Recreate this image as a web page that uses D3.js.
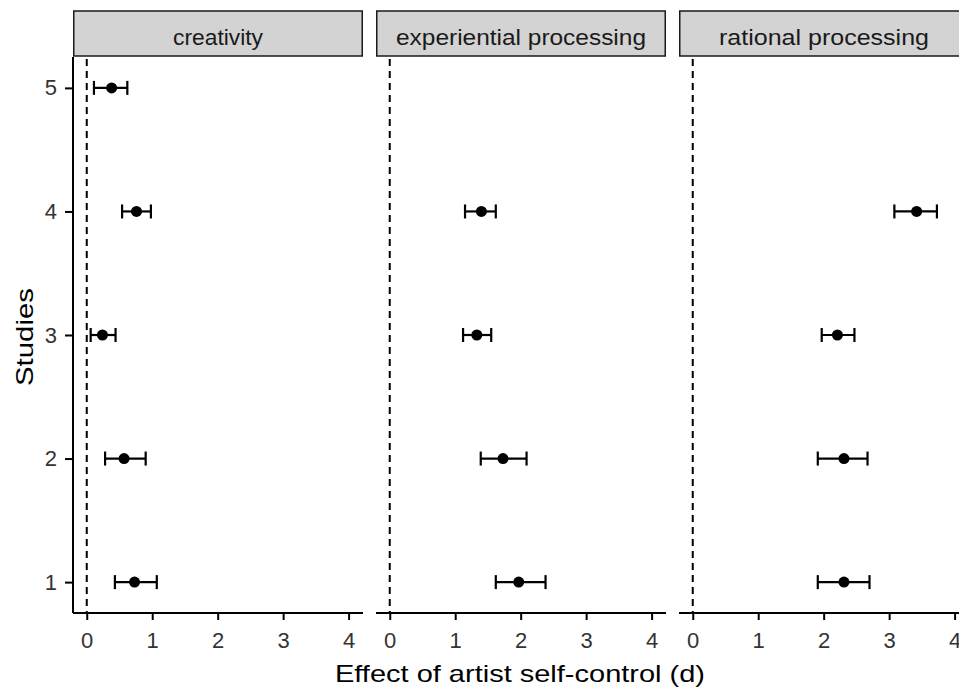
<!DOCTYPE html>
<html>
<head>
<meta charset="utf-8">
<script src="https://cdn.jsdelivr.net/npm/d3@7"></script>
<style>
  body { margin: 0; background: #fff; }
  svg { display: block; font-family: "Liberation Sans", Arial, sans-serif; }
</style>
</head>
<body>
<div class="chart"></div>
<script>
// facets and studies
var facets = ['creativity', 'experiential processing', 'rational processing'];
var facetLabelWidth = [90, 250, 210];
var studies = [1, 2, 3, 4, 5];
var xTicks = [0, 1, 2, 3, 4];

// effect sizes (d) with CI, per facet, per study (null = no estimate)
var creativityD  = [0.73, 0.57, 0.24, 0.76, 0.38];
var creativityLo = [0.43, 0.28, 0.06, 0.54, 0.11];
var creativityHi = [1.07, 0.90, 0.44, 0.98, 0.62];

var experientialD  = [1.97, 1.73, 1.33, 1.40, null];
var experientialLo = [1.62, 1.39, 1.12, 1.15, null];
var experientialHi = [2.38, 2.09, 1.55, 1.62, null];

var rationalD  = [2.31, 2.31, 2.21, 3.42, null];
var rationalLo = [1.91, 1.91, 1.97, 3.08, null];
var rationalHi = [2.70, 2.67, 2.47, 3.73, null];

var series = [
  {d: creativityD, lo: creativityLo, hi: creativityHi},
  {d: experientialD, lo: experientialLo, hi: experientialHi},
  {d: rationalD, lo: rationalLo, hi: rationalHi}
];

var W = 959, H = 688;
var panelW = 290, gap = 13, left0 = 73;
var stripTop = 11, panelTop = 57, panelBottom = 613;
var fontFam = '"Liberation Sans", Arial, sans-serif';

var svg = d3.select('.chart').append('svg')
  .attr('width', W).attr('height', H);

var y = d3.scaleLinear().domain([0.75, 5.25]).range([panelBottom, panelTop]);

facets.forEach(function(name, i) {
  var px = left0 + i * (panelW + gap);
  var x = d3.scaleLinear().domain([-0.21, 4.22]).range([px, px + panelW]);
  var g = svg.append('g');

  // strip
  g.append('rect')
    .attr('x', px + 0.75).attr('y', stripTop)
    .attr('width', panelW - 1.5).attr('height', panelTop - stripTop - 1)
    .attr('fill', '#d3d3d3').attr('stroke', '#1a1a1a').attr('stroke-width', 1.5);
  g.append('text').text(name)
    .attr('x', px + panelW / 2).attr('y', 45)
    .attr('text-anchor', 'middle')
    .attr('textLength', facetLabelWidth[i]).attr('lengthAdjust', 'spacingAndGlyphs')
    .style('font-size', '22px').attr('fill', '#1a1a1a');

  // reference line at 0
  g.append('line')
    .attr('x1', x(0)).attr('x2', x(0))
    .attr('y1', panelTop + 2).attr('y2', panelBottom)
    .attr('stroke', '#000').attr('stroke-width', 2)
    .attr('stroke-dasharray', '7,5');

  // x axis
  var xa = g.append('g')
    .attr('transform', 'translate(0,' + panelBottom + ')')
    .call(d3.axisBottom(x).tickValues(xTicks).tickSize(7).tickPadding(12).tickFormat(d3.format('d')));
  xa.select('.domain').attr('stroke', '#000').attr('stroke-width', 2).attr('d', 'M' + px + ',0H' + (px + panelW));
  xa.selectAll('.tick line').attr('stroke', '#000').attr('stroke-width', 2);
  xa.selectAll('.tick text').style('font-size', '22px').attr('fill', '#333')
    .style('font-family', fontFam);

  // error bars and points
  var s = series[i];
  var rows = studies.map(function(st, k) {
    return {study: st, d: s.d[k], lo: s.lo[k], hi: s.hi[k]};
  }).filter(function(r) { return r.d !== null; });

  var bars = g.selectAll('.bar').data(rows).enter().append('g');
  bars.append('line')
    .attr('x1', function(r) { return x(r.lo); })
    .attr('x2', function(r) { return x(r.hi); })
    .attr('y1', function(r) { return y(r.study); })
    .attr('y2', function(r) { return y(r.study); })
    .attr('stroke', '#000').attr('stroke-width', 2.2);
  ['lo', 'hi'].forEach(function(k) {
    bars.append('line')
      .attr('x1', function(r) { return x(r[k]); })
      .attr('x2', function(r) { return x(r[k]); })
      .attr('y1', function(r) { return y(r.study) - 7; })
      .attr('y2', function(r) { return y(r.study) + 7; })
      .attr('stroke', '#000').attr('stroke-width', 2.2);
  });
  bars.append('circle')
    .attr('cx', function(r) { return x(r.d); })
    .attr('cy', function(r) { return y(r.study); })
    .attr('r', 5.5).attr('fill', '#000');
});

// y axis on first panel only
var ya = svg.append('g')
  .attr('transform', 'translate(' + left0 + ',0)')
  .call(d3.axisLeft(y).tickValues(studies).tickSize(8).tickPadding(8).tickFormat(d3.format('d')));
ya.select('.domain').attr('stroke', '#000').attr('stroke-width', 2).attr('d', 'M0,' + panelTop + 'V' + panelBottom);
ya.selectAll('.tick line').attr('stroke', '#000').attr('stroke-width', 2);
ya.selectAll('.tick text').style('font-size', '22px').attr('fill', '#333')
  .style('font-family', fontFam);

// axis titles
svg.append('text').text('Effect of artist self-control (d)')
  .attr('x', 520).attr('y', 682)
  .attr('text-anchor', 'middle')
  .attr('textLength', 370).attr('lengthAdjust', 'spacingAndGlyphs')
  .style('font-size', '24px').attr('fill', '#000');
svg.append('text').text('Studies')
  .attr('transform', 'translate(33,' + 337 + ') rotate(-90)')
  .attr('text-anchor', 'middle')
  .attr('textLength', 98).attr('lengthAdjust', 'spacingAndGlyphs')
  .style('font-size', '24px').attr('fill', '#000');
</script>
</body>
</html>
